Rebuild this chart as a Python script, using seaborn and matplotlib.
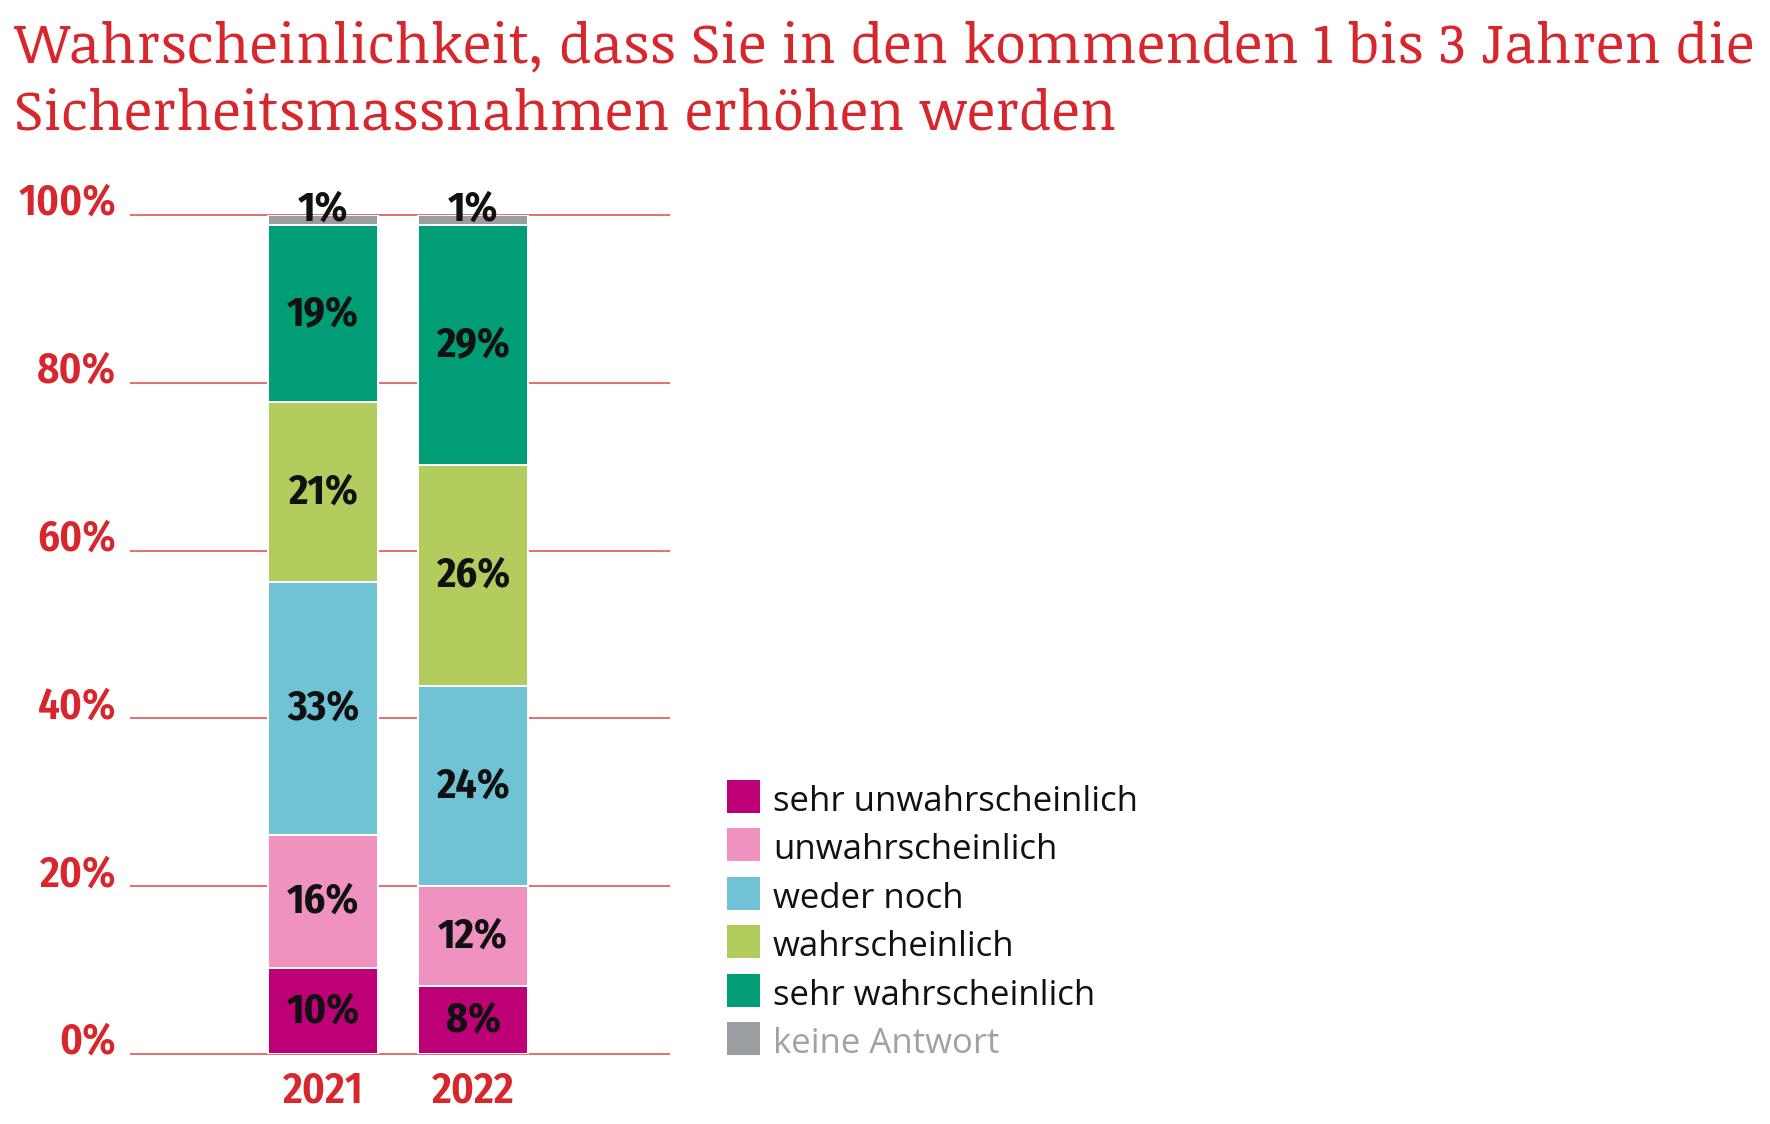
import matplotlib
matplotlib.use('Agg')
import matplotlib.pyplot as plt
from matplotlib.patches import Rectangle
import pandas as pd
import seaborn as sns

# data (segment heights as drawn, labels as printed)
years = ['2021', '2022']
categories = ['sehr unwahrscheinlich', 'unwahrscheinlich', 'weder noch',
              'wahrscheinlich', 'sehr wahrscheinlich', 'keine Antwort']
shares_2021 = [10.2, 15.9, 30.1, 21.5, 21.1, 1.2]
shares_2022 = [8.1, 11.9, 23.9, 26.3, 28.6, 1.2]
labels_2021 = ['10%', '16%', '33%', '21%', '19%', '1%']
labels_2022 = ['8%', '12%', '24%', '26%', '29%', '1%']
yticks = [0, 20, 40, 60, 80, 100]
ytick_labels = ['0%', '20%', '40%', '60%', '80%', '100%']
title_lines = ['Wahrscheinlichkeit, dass Sie in den kommenden 1 bis 3 Jahren die',
               'Sicherheitsmassnahmen erhöhen werden']

colors = ['#BE0077', '#EF92BF', '#70C3D5', '#B2CC5E', '#009D77', '#9A9DA1']
RED = '#D7262C'
GRID = '#E2555A'

sns.set_style('white')
COND = ['Fira Sans Condensed', 'Asap Condensed', 'DejaVu Sans']
SERIF = ['Noticia Text', 'Liberation Serif']
plt.rcParams['font.family'] = ['Open Sans', 'DejaVu Sans']

W, H = 1770, 1124
fig = plt.figure(figsize=(W / 100, H / 100), dpi=100)
ax = fig.add_axes([130 / W, 1 - 1054 / H, 540 / W, 839 / H])

df = pd.DataFrame({'year': years * len(categories),
                   'category': [c for c in categories for _ in years],
                   'share': [v for pair in zip(shares_2021, shares_2022) for v in pair],
                   'label': [v for pair in zip(labels_2021, labels_2022) for v in pair]})
df['bottom'] = df.groupby('year')['share'].cumsum() - df['share']

# gridlines behind the bars
ax.hlines(yticks, -1.287, 2.313, color=GRID, lw=1.2, zorder=0, clip_on=False)

for cat, col in zip(categories, colors):
    sub = df[df['category'] == cat]
    sns.barplot(data=sub, x='year', y='share', order=years, bottom=sub['bottom'].to_numpy(),
                color=col, width=0.73, errorbar=None, edgecolor='white', linewidth=1.4,
                saturation=1, ax=ax, zorder=2)

for _, r in df.iterrows():
    xi = years.index(r['year'])
    if r['category'] == 'keine Antwort':
        ax.text(xi, r['bottom'] + 0.5, r['label'], ha='center', va='baseline',
                fontsize=30, fontweight='bold', family=COND, color='#111111', zorder=3)
    else:
        ax.text(xi, r['bottom'] + r['share'] / 2, r['label'], ha='center', va='center',
                fontsize=30, fontweight='bold', family=COND, color='#111111', zorder=3)

ax.set_xlim(-1.287, 2.313)
ax.set_ylim(0, 100)
ax.set_yticks(yticks)
ax.set_yticklabels(ytick_labels, fontsize=31, fontweight='semibold', family=COND, color=RED)
for t in ax.get_yticklabels():
    t.set_verticalalignment('baseline')
ax.set_xticks(range(len(years)))
ax.set_xticklabels(years, fontsize=31, fontweight='semibold', family=COND, color=RED)
ax.tick_params(axis='y', length=0, pad=10)
ax.tick_params(axis='x', length=0, pad=11)
ax.set_xlabel('')
ax.set_ylabel('')
sns.despine(ax=ax, left=True, bottom=True)

# legend drawn by hand to match the layout
for i, (cat, col) in enumerate(zip(categories, colors)):
    top = 780 + i * 48.4
    fig.add_artist(Rectangle((727 / W, 1 - (top + 33) / H), 33 / W, 33 / H,
                             transform=fig.transFigure, color=col, lw=0))
    fig.text(773 / W, 1 - (top + 31) / H, cat, fontsize=25, va='baseline', ha='left',
             color='#A0A3A6' if cat == 'keine Antwort' else '#111111')

fig.text(14 / W, 1 - 62 / H, title_lines[0], fontsize=40.2, family=SERIF,
         color=RED, va='baseline', ha='left')
fig.text(14 / W, 1 - 130 / H, title_lines[1], fontsize=40.2, family=SERIF,
         color=RED, va='baseline', ha='left')

fig.savefig('out.png', dpi=100, facecolor='white')
